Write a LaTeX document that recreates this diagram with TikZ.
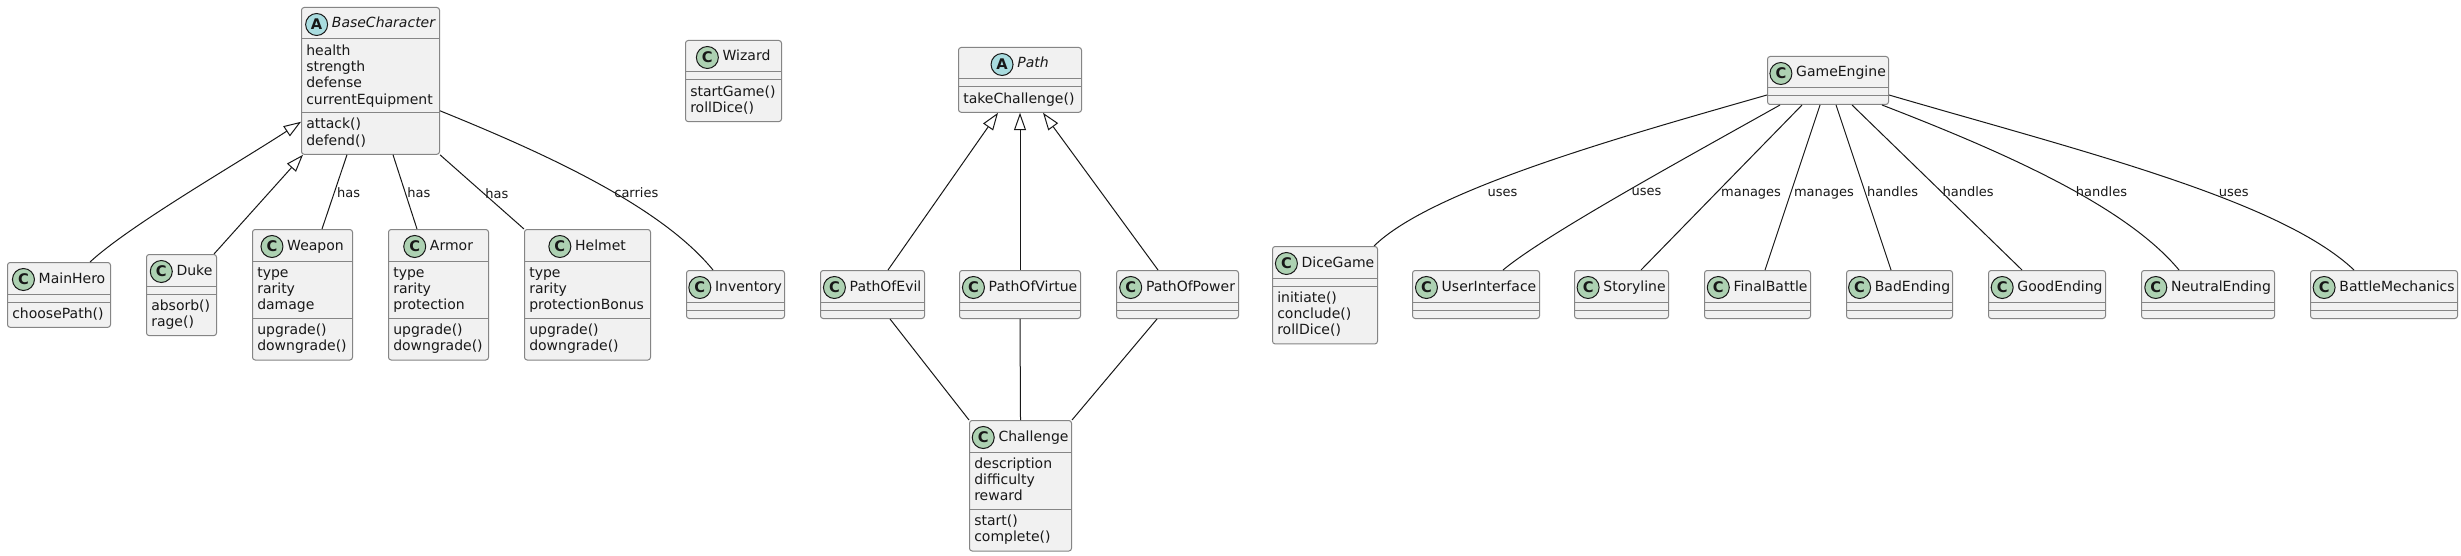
\documentclass[tikz,border=0pt]{standalone}
\usepackage{fontspec}
\setmainfont{DejaVu Sans}
\usepackage{xcolor}
\usepackage{tikz}
\usetikzlibrary{arrows.meta,calc}

\definecolor{boxfill}{HTML}{F1F1F1}
\definecolor{boxline}{HTML}{858585}
\definecolor{linedark}{HTML}{181818}
\definecolor{iconCfill}{HTML}{ADD1B2}
\definecolor{iconAfill}{HTML}{A9DCDF}

\newcommand{\classfont}{\fontsize{10.5}{12.2}\selectfont}
\newcommand{\lblfont}{\fontsize{9.75}{11}\selectfont}
\newcommand{\iconfont}{\fontsize{11}{11}\selectfont\bfseries}

% class box: [icon]{name}{x,y}{width}{title}{attr lines}{attrs}{method lines}{methods}
\newcommand{\umlclass}[9][C]{%
  \pgfmathsetmacro\hatt{ifthenelse(#6==0,8,16.3*#6+8.5)}%
  \pgfmathsetmacro\hmet{ifthenelse(#8==0,8,16.3*#8+8.5)}%
  \pgfmathsetmacro\htot{32+\hatt+\hmet}%
  \node[classbox, minimum width=#4*0.75pt, minimum height=\htot*0.75pt] (#2) at (#3) {};
  \draw[divider] ($(#2.north west)+(0,32)$) -- ($(#2.north east)+(0,32)$);
  \draw[divider] ($(#2.north west)+(0,32+\hatt)$) -- ($(#2.north east)+(0,32+\hatt)$);
  \node[classtitle, #1title] (#2-t) at ($(#2.north)+(13,21)$) {#5};
  \node[icon#1] (#2-i) at ($(#2-t.base west)+(-15,-3.5)$) {#1};
  \ifnum#6>0 \node[members] (#2-a) at ($(#2.north west)+(5,36.6)$) {\strut#7};\fi
  \ifnum#8>0 \node[members] (#2-m) at ($(#2.north west)+(5,36.6+\hatt)$) {\strut#9};\fi
}

\begin{document}
\begin{tikzpicture}[
    x=0.75pt, y=-0.75pt,
    classbox/.style={draw=boxline, fill=boxfill, rounded corners=2pt, line width=0.75pt,
                     anchor=north west, inner sep=0pt},
    divider/.style={draw=boxline, line width=0.75pt},
    classtitle/.style={inner sep=0pt, anchor=base, font=\classfont, text=linedark},
    Ctitle/.style={},
    Atitle/.style={font=\classfont\itshape},
    iconC/.style={circle, draw=linedark, fill=iconCfill, line width=0.75pt,
                  minimum size=16.5pt, inner sep=0pt, font=\iconfont, text=linedark},
    iconA/.style={iconC, fill=iconAfill},
    members/.style={anchor=north west, align=left, inner sep=0pt, font=\classfont, text=linedark},
    assoc/.style={draw=linedark, line width=0.75pt},
    inherit/.style={assoc, -{Triangle[length=13pt, width=9pt, fill=white]}},
    lbl/.style={font=\lblfont, anchor=base west, inner sep=1.5pt, yshift=-4.5pt, text=linedark},
  ]
  \fill[white] (0,0) rectangle (2461,556);
  \useasboundingbox (0,0) rectangle (2461,556);

  % characters and equipment
  \umlclass[A]{bc}{301,7}{138}{BaseCharacter}{4}{health\\strength\\defense\\currentEquipment}{2}{attack()\\defend()}
  \umlclass{wiz}{685,40}{96}{Wizard}{0}{}{2}{startGame()\\rollDice()}
  \umlclass{hero}{7,262}{103}{MainHero}{0}{}{1}{choosePath()}
  \umlclass{duke}{146,254}{70}{Duke}{0}{}{2}{absorb()\\rage()}
  \umlclass{wpn}{252,229}{100}{Weapon}{3}{type\\rarity\\damage}{2}{upgrade()\\downgrade()}
  \umlclass{arm}{388,229}{100}{Armor}{3}{type\\rarity\\protection}{2}{upgrade()\\downgrade()}
  \umlclass{helm}{524,229}{126}{Helmet}{3}{type\\rarity\\protectionBonus}{2}{upgrade()\\downgrade()}
  \umlclass{inv}{686,270}{98}{Inventory}{0}{}{0}{}

  % paths
  \umlclass[A]{path}{958,47}{123}{Path}{0}{}{1}{takeChallenge()}
  \umlclass{evil}{820,270}{104}{PathOfEvil}{0}{}{0}{}
  \umlclass{virtue}{959,270}{121}{PathOfVirtue}{0}{}{0}{}
  \umlclass{power}{1116,270}{122}{PathOfPower}{0}{}{0}{}
  \umlclass{chal}{969,420}{102}{Challenge}{3}{description\\difficulty\\reward}{2}{start()\\complete()}

  % engine
  \umlclass{ge}{1767,56}{121}{GameEngine}{0}{}{0}{}
  \umlclass{dice}{1272,246}{105}{DiceGame}{0}{}{3}{initiate()\\conclude()\\rollDice()}
  \umlclass{ui}{1412,270}{127}{UserInterface}{0}{}{0}{}
  \umlclass{story}{1574,270}{94}{Storyline}{0}{}{0}{}
  \umlclass{final}{1704,270}{106}{FinalBattle}{0}{}{0}{}
  \umlclass{bad}{1846,270}{106}{BadEnding}{0}{}{0}{}
  \umlclass{good}{1988,270}{117}{GoodEnding}{0}{}{0}{}
  \umlclass{neutral}{2141,270}{133}{NeutralEnding}{0}{}{0}{}
  \umlclass{battle}{2310,270}{147}{BattleMechanics}{0}{}{0}{}

  % inheritance
  \draw[inherit] ($(hero.north west)+(83,0)$) .. controls +(40,-37) and +(-61,40) .. ($(bc.south west)+(0,-33)$);
  \draw[inherit] ($(duke.north east)+(-3,0)$) -- ($(bc.south west)+(2,0)$);
  \draw[inherit] ($(evil.north west)+(68,0)$) -- ($(path.south west)+(40,0)$);
  \draw[inherit] (virtue.north) -- (path.south);
  \draw[inherit] ($(power.north west)+(42,0)$) -- ($(path.south west)+(85,0)$);

  % associations
  \draw[assoc] ($(wpn.north west)+(70,0)$) -- node[lbl, pos=.506] {has} ($(bc.south west)+(46,0)$);
  \draw[assoc] ($(arm.north west)+(29,0)$) -- node[lbl, pos=.506] {has} ($(bc.south west)+(92,0)$);
  \draw[assoc] (helm.north west) -- node[lbl, pos=.49] {has} (bc.south east);
  \draw[assoc] ($(bc.south east)+(0,-44)$) .. controls +(101,41) and +(-53,-65) .. node[lbl, pos=.56] {carries} ($(inv.north west)+(27,0)$);
  \draw[assoc] ($(evil.south west)+(70,0)$) -- (chal.north west);
  \draw[assoc] (virtue.south) -- (chal.north);
  \draw[assoc] ($(power.south west)+(41,0)$) -- (chal.north east);

  % game engine links
  \draw[assoc] ($(ge.south west)+(0,-10)$) .. controls +(-147,42) and +(57,-56) .. node[lbl, pos=.66, xshift=10.5pt] {uses} ($(dice.north east)+(-4,0)$);
  \draw[assoc] ($(ge.south west)+(13,0)$) .. controls +(-100,56) and +(42,-35) .. node[lbl, pos=.47] {uses} ($(ui.north west)+(91,0)$);
  \draw[assoc] ($(ge.south west)+(35,0)$) -- node[lbl, pos=.518] {manages} ($(story.north west)+(67,0)$);
  \draw[assoc] ($(ge.south west)+(53,0)$) -- node[lbl, pos=.518] {manages} ($(final.north west)+(61,0)$);
  \draw[assoc] ($(ge.south west)+(69,0)$) -- node[lbl, pos=.518] {handles} ($(bad.north west)+(45,0)$);
  \draw[assoc] ($(ge.south west)+(85,0)$) -- node[lbl, pos=.518] {handles} ($(good.north west)+(34,0)$);
  \draw[assoc] ($(ge.south east)+(-7,0)$) .. controls +(119,46) and +(-54,-65) .. node[lbl, pos=.56] {handles} ($(neutral.north west)+(38,0)$);
  \draw[assoc] ($(ge.south east)+(0,-10)$) .. controls +(192,56) and +(-74,-70) .. node[lbl, pos=.58, xshift=9pt] {uses} ($(battle.north west)+(44,0)$);
\end{tikzpicture}
\end{document}
